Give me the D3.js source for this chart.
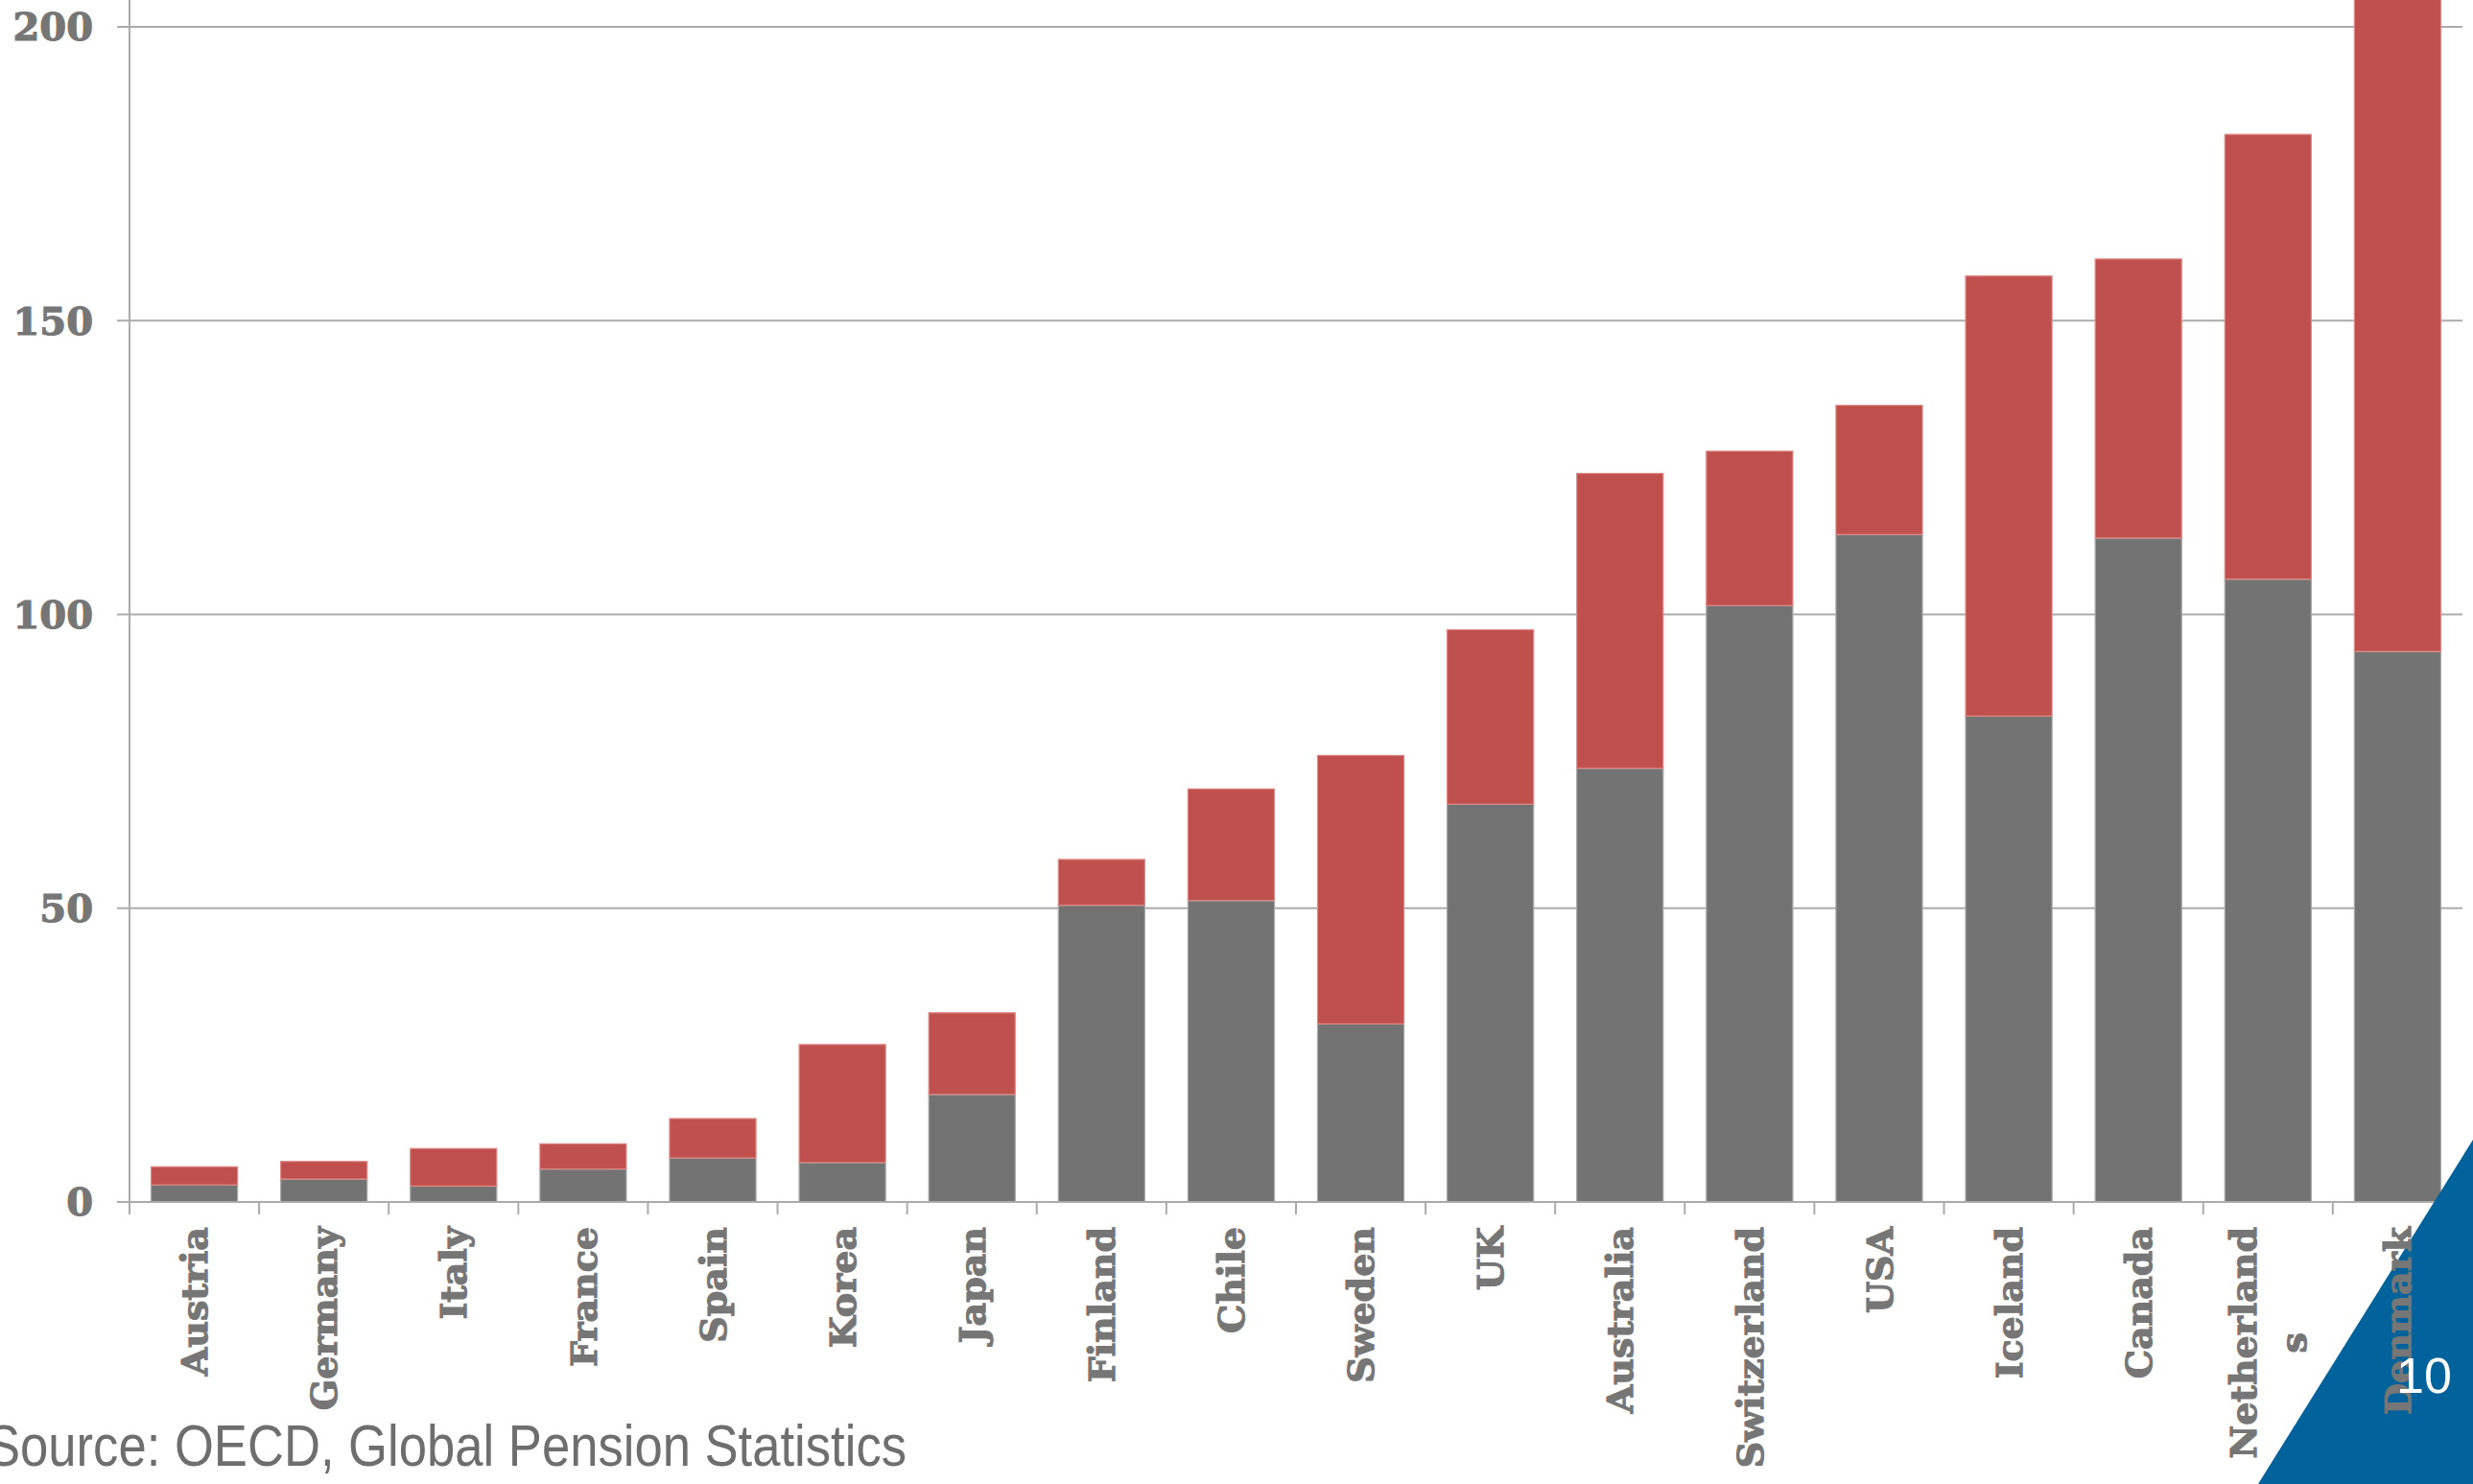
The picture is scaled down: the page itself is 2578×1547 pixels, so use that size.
<!DOCTYPE html>
<html>
<head>
<meta charset="utf-8">
<script src="https://cdn.jsdelivr.net/npm/d3@7"></script>
<style>
body{margin:0;background:#fff;overflow:hidden;}
</style>
</head>
<body>
<div id="plot"></div>
<script>
//data (% of GDP)
var countries = ['Austria','Germany','Italy','France','Spain','Korea','Japan','Finland','Chile','Sweden','UK','Australia','Switzerland','USA','Iceland','Canada','Netherlands','Denmark'];
var tickLabels = ['Austria','Germany','Italy','France','Spain','Korea','Japan','Finland','Chile','Sweden','UK','Australia','Switzerland','USA','Iceland','Canada','Netherland\ns','Denmark'];
var pensionFunds = [2.9,3.9,2.7,5.6,7.5,6.7,18.3,50.5,51.3,30.3,67.7,73.8,101.5,113.6,82.7,113.0,106.0,93.7];
var otherAssets = [3.1,3.0,6.4,4.3,6.7,20.1,13.9,7.8,19.0,45.7,29.7,50.2,26.3,22.0,74.9,47.5,75.7,112.3];
var yTicks = [0,50,100,150,200];

var width = 2578;
var height = 1547;

var svg = d3.select('#plot')
	.append('svg')
	.attr('width',width)
	.attr('height',height);

//scales
var x = d3.scaleBand()
	.domain(countries)
	.range([135,2567])
	.paddingInner(0.333)
	.paddingOuter(0.1667);

var y = d3.scaleLinear()
	.domain([0,200])
	.range([1253,28]);

//gridlines
svg.append('g')
	.selectAll('line')
	.data(yTicks)
	.enter()
	.append('line')
	.attr('x1',122)
	.attr('x2',2567)
	.attr('y1',function(d){return y(d);})
	.attr('y2',function(d){return y(d);})
	.style('stroke','#ababab')
	.style('stroke-width','2px');

//y labels
svg.append('g')
	.selectAll('text')
	.data(yTicks)
	.enter()
	.append('text')
	.attr('x',97)
	.attr('y',function(d){return y(d);})
	.attr('dy','0.36em')
	.attr('text-anchor','end')
	.style('font-family','DejaVu Serif')
	.style('font-weight','bold')
	.style('font-size','40px')
	.style('fill','#767676')
	.style('stroke','#767676')
	.style('stroke-width','1.2px')
	.text(function(d){return d;});

//stacked bars
var table = countries.map(function(c,i){
	return {country:c, pension:pensionFunds[i], other:otherAssets[i]};
});
var series = d3.stack().keys(['pension','other'])(table);
var colors = {pension:'#737373', other:'#c0504d'};
var strokes = {pension:'#a9a9a9', other:'#e08a88'};

svg.append('g')
	.selectAll('g')
	.data(series)
	.enter()
	.append('g')
	.style('fill',function(s){return colors[s.key];})
	.style('stroke',function(s){return strokes[s.key];})
	.style('stroke-width','1.2px')
	.selectAll('rect')
	.data(function(s){return s;})
	.enter()
	.append('rect')
	.attr('x',function(d){return x(d.data.country);})
	.attr('width',x.bandwidth())
	.attr('y',function(d){return y(d[1]);})
	.attr('height',function(d){return y(d[0])-y(d[1]);});

//axes lines
svg.append('line')
	.attr('x1',135).attr('x2',135)
	.attr('y1',0).attr('y2',1266)
	.style('stroke','#ababab')
	.style('stroke-width','2px');

svg.append('line')
	.attr('x1',122).attr('x2',2567)
	.attr('y1',y(0)).attr('y2',y(0))
	.style('stroke','#ababab')
	.style('stroke-width','2px');

//x ticks at band edges
var step = x.step();
var edges = countries.map(function(c){return x(c)-x.paddingOuter()*step;});
edges.push(2567);
svg.append('g')
	.selectAll('line')
	.data(edges)
	.enter()
	.append('line')
	.attr('x1',function(d){return d;})
	.attr('x2',function(d){return d;})
	.attr('y1',y(0))
	.attr('y2',y(0)+13)
	.style('stroke','#ababab')
	.style('stroke-width','2px');

//blue corner
svg.append('path')
	.attr('d','M2578,1188 L2578,1547 L2354,1547 Z')
	.style('fill','#02629c');

//x labels, rotated
countries.forEach(function(c,i){
	var lines = tickLabels[i].split('\n');
	var g = svg.append('g')
		.attr('transform','translate('+(x(c)+x.bandwidth()/2)+',1279) rotate(-90)');
	var texts = lines.map(function(t,j){
		return g.append('text')
			.attr('y',(j-(lines.length-1)/2)*52)
			.attr('dy','0.36em')
			.attr('text-anchor','middle')
			.style('font-family','DejaVu Serif')
			.style('font-weight','bold')
			.style('font-size','38px')
			.style('fill','#767676')
			.style('stroke','#767676')
			.style('stroke-width','1.2px')
			.text(t);
	});
	var maxLen = d3.max(texts,function(t){return t.node().getComputedTextLength();});
	texts.forEach(function(t){t.attr('x',-maxLen/2);});
});

//page number
svg.append('text')
	.attr('x',2527)
	.attr('y',1452)
	.attr('text-anchor','middle')
	.style('font-family','Liberation Sans')
	.style('font-size','52px')
	.style('fill','#ffffff')
	.text('10');

//source
svg.append('text')
	.attr('x',-14)
	.attr('y',1528)
	.attr('textLength',959)
	.attr('lengthAdjust','spacingAndGlyphs')
	.style('font-family','Liberation Sans Narrow, Liberation Sans')
	.style('font-size','62px')
	.style('fill','#6e6e6e')
	.text('Source: OECD, Global Pension Statistics');
</script>
</body>
</html>
